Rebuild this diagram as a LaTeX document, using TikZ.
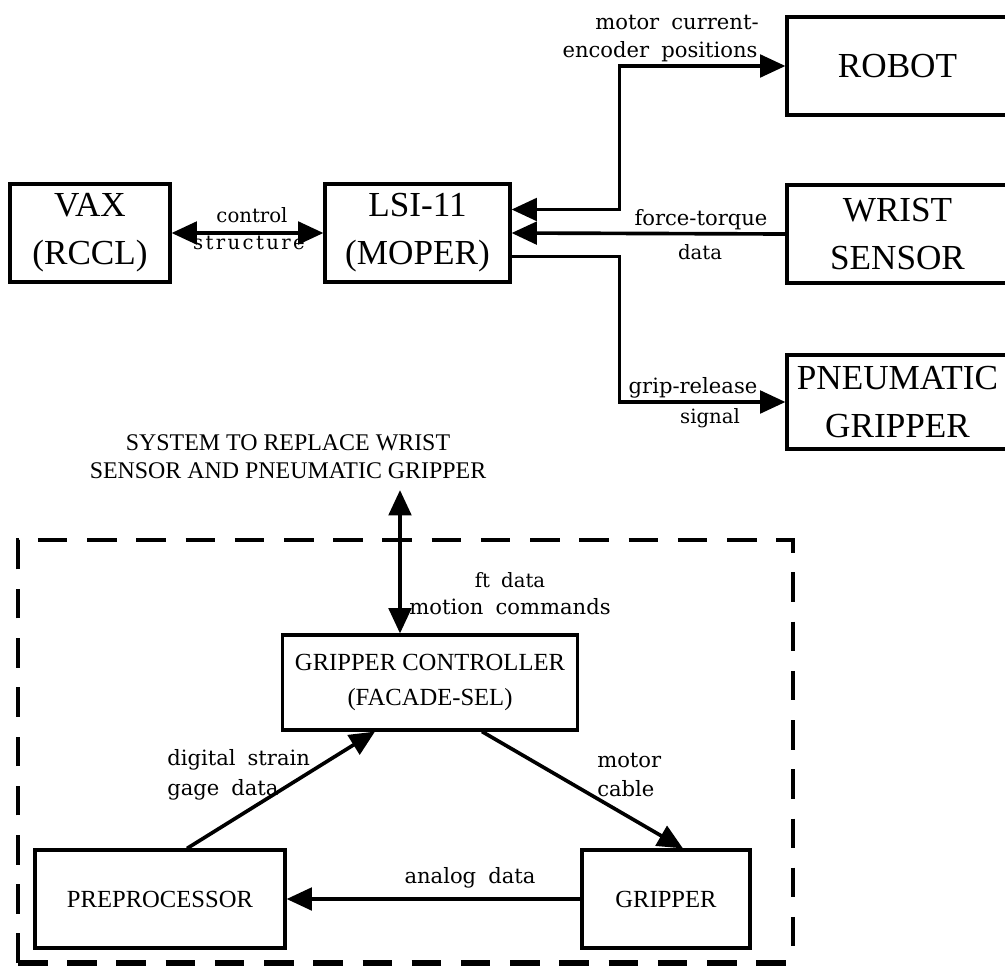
\documentclass[tikz,border=0pt]{standalone}
\usepackage{fontspec}
\setmainfont{Liberation Serif}
\newfontfamily\lblfont[WordSpace=1.8]{DejaVu Serif}
\newfontfamily\spcfont[LetterSpace=12]{DejaVu Serif}
\usetikzlibrary{arrows.meta,calc}

\tikzset{
  bigbox/.style={draw,line width=2.2pt,align=center,inner sep=0pt,
    font=\fontsize{25}{34}\selectfont},
  smallbox/.style={draw,line width=2.2pt,align=center,inner sep=0pt,
    font=\fontsize{17.5}{25}\selectfont},
  wire/.style={line width=2.6pt,-{Triangle[length=18pt,width=16pt]}},
  twoway/.style={line width=2.6pt,
    {Triangle[length=18pt,width=16pt]}-{Triangle[length=18pt,width=16pt]}},
  lbl/.style={font=\lblfont\fontsize{15}{21}\selectfont,inner sep=0pt},
  lbls/.style={font=\lblfont\fontsize{14}{17}\selectfont,inner sep=0pt},
  spaced/.style={font=\spcfont\fontsize{14}{17}\selectfont,inner sep=0pt},
  frame/.style={line width=2.3pt,dash pattern=on 21pt off 14pt},
}

\begin{document}
\begin{tikzpicture}[x=0.025cm,y=-0.025cm]
  \useasboundingbox (0,0) rectangle (1005,973);
  % upper row
  \node[bigbox,minimum width=4cm,minimum height=2.45cm] (vax) at (90,233) {VAX\\(RCCL)};
  \node[bigbox,minimum width=4.625cm,minimum height=2.45cm] (lsi) at (417.5,233) {LSI-11\\(MOPER)};
  \node[bigbox,minimum width=5.525cm,minimum height=2.45cm] (robot) at (897.5,66) {ROBOT};
  \node[bigbox,minimum width=5.525cm,minimum height=2.45cm] (wrist) at (897.5,234) {WRIST\\SENSOR};
  \node[bigbox,minimum width=5.525cm,minimum height=2.35cm] (pneu) at (897.5,402) {PNEUMATIC\\GRIPPER};

  \draw[twoway] (vax.east) -- (lsi.west);
  \node[lbls] at (252,215) {control};
  \node[spaced] at (249,243) {structure};

  \draw[twoway] ($(lsi.east)+(0,-23.5)$) -- ++(108,0) |- (robot.west);
  \draw[wire] (wrist.west) -- (lsi.east);
  \draw[wire] ($(lsi.east)+(0,23.5)$) -- ++(108,0) |- (pneu.west);
  \node[lbl] at (677,22) {motor current-};
  \node[lbl] at (660,52) {encoder positions};
  \node[lbl] at (701,220) {force-torque};
  \node[lbls] at (700,252) {data};
  \node[lbl] at (693,388) {grip-release};
  \node[lbls] at (710,418) {signal};

  % replacement system
  \node[align=center,font=\fontsize{17}{20}\selectfont] (title) at (288,457)
    {SYSTEM TO REPLACE WRIST\\SENSOR AND PNEUMATIC GRIPPER};
  \draw[frame] (18,963) -- (18,540) -- (793,540) -- (793,963);
  \draw[frame,line width=3.6pt] (18,963) -- (793,963);

  \node[smallbox,minimum width=7.375cm,minimum height=2.375cm] (gc) at (430,682.5)
    {GRIPPER CONTROLLER\\(FACADE-SEL)};
  \coordinate (gcin) at ($(gc.north)+(-30,0)$);
  \draw[twoway] ($(gcin |- title.south)+(0,6)$) -- (gcin);
  \node[lbls] at (510,580) {ft data};
  \node[lbl] at (510,607) {motion commands};

  \node[smallbox,minimum width=6.25cm,minimum height=2.45cm] (pre) at (160,899) {PREPROCESSOR};
  \node[smallbox,minimum width=4.2cm,minimum height=2.45cm] (grip) at (666,899) {GRIPPER};
  \draw[wire] ($(pre.north)+(27,0)$) -- ($(gc.south)+(-55,0)$);
  \draw[wire] ($(gc.south)+(52,0)$) -- ($(grip.north)+(17,0)$);
  \draw[wire] (grip.west) -- (pre.east);
  \node[lbl,align=left,anchor=west] at (167,775) {digital strain\\gage data};
  \node[lbl,align=left,anchor=west] at (597,775) {motor\\cable};
  \node[lbl] at (470,878) {analog data};
\end{tikzpicture}
\end{document}
